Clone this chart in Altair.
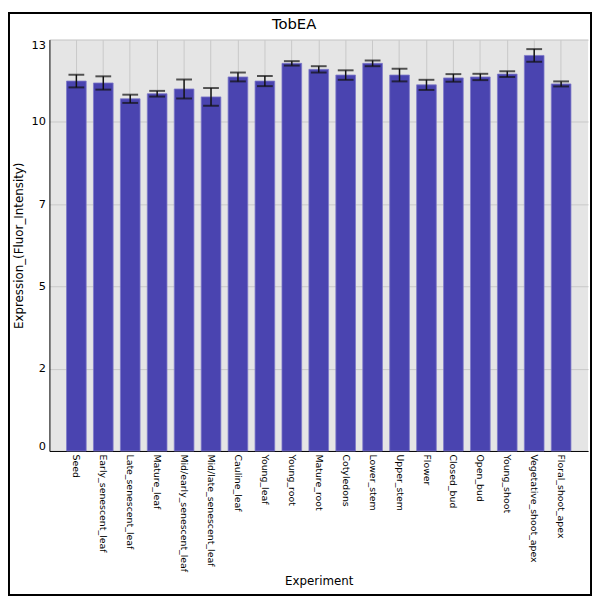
import altair as alt
import pandas as pd

experiments = [
    "Seed", "Early_senescent_leaf", "Late_senescent_leaf", "Mature_leaf",
    "Mid/early_senescent_leaf", "Mid/late_senescent_leaf", "Cauline_leaf",
    "Young_leaf", "Young_root", "Mature_root", "Cotyledons", "Lower_stem",
    "Upper_stem", "Flower", "Closed_bud", "Open_bud", "Young_shoot",
    "Vegetative_shoot_apex", "Floral_shoot_apex",
]
expression = [11.69, 11.63, 11.13, 11.29, 11.44, 11.19, 11.82, 11.69, 12.25, 12.06,
              11.88, 12.25, 11.88, 11.57, 11.79, 11.82, 11.91, 12.50, 11.60]
errors = [0.20, 0.21, 0.13, 0.09, 0.30, 0.28, 0.14, 0.16, 0.07, 0.10,
          0.15, 0.09, 0.20, 0.16, 0.12, 0.10, 0.09, 0.20, 0.08]
y_ticks = [0, 2.6, 5.2, 7.8, 10.4, 13]
chart_title = "TobEA"

df = pd.DataFrame({"Experiment": experiments, "Expression": expression, "Error": errors})
df["lo"] = df["Expression"] - df["Error"]
df["hi"] = df["Expression"] + df["Error"]

W, H = 546, 417
YT = "Expression_(Fluor_Intensity)"

x_enc = alt.X(
    "Experiment:N", sort=experiments,
    scale=alt.Scale(paddingInner=0.27, paddingOuter=0.635),
    axis=alt.Axis(title="Experiment", labelAngle=90, labelFontSize=9.5, labelPadding=3,
                  ticks=False, grid=True, gridColor="#c8c8c8", gridWidth=1,
                  domainColor="black", domainWidth=1, labelColor="black",
                  titleFontSize=12, titleFontWeight="normal", titleColor="black"),
)
y_enc = alt.Y(
    "Expression:Q",
    scale=alt.Scale(domain=[0, 13], nice=False, zero=True),
    axis=alt.Axis(title=YT, values=y_ticks, labelExpr="floor(datum.value)",
                  labelFlush=True, labelFontSize=11.5, labelPadding=4, ticks=False,
                  grid=True, gridColor="#c8c8c8", gridWidth=1,
                  domainColor="black", domainWidth=1, labelColor="black",
                  titleFontSize=12, titleFontWeight="normal", titleColor="black",
                  titlePadding=6),
)

bars = alt.Chart(df).mark_bar(color="#4A44B0", stroke="#7D79C8", strokeWidth=0.8).encode(
    x=x_enc, y=y_enc
)
xs = alt.X("Experiment:N", sort=experiments)
rule = alt.Chart(df).mark_rule(color="#111111", strokeWidth=1.5).encode(
    x=xs, y=alt.Y("lo:Q", title=YT), y2="hi:Q"
)
cap_lo = alt.Chart(df).mark_tick(color="#111111", thickness=2, size=16).encode(
    x=xs, y=alt.Y("lo:Q", title=YT)
)
cap_hi = alt.Chart(df).mark_tick(color="#111111", thickness=2, size=16).encode(
    x=xs, y=alt.Y("hi:Q", title=YT)
)
frame = alt.Chart(pd.DataFrame({"f": [0]})).mark_rect(
    filled=False, stroke="black", strokeWidth=2
).encode(
    x=alt.value(-41), x2=alt.value(W + 3), y=alt.value(-27), y2=alt.value(H + 146)
)
title = alt.Chart(pd.DataFrame({"t": [chart_title]})).mark_text(
    fontSize=15, color="black", align="center", baseline="middle"
).encode(
    text="t:N", x=alt.value(W / 2 - 25), y=alt.value(-16)
)

chart = alt.layer(bars, rule, cap_lo, cap_hi, frame, title).properties(
    width=W, height=H,
    autosize=alt.AutoSizeParams(type="none"),
    padding={"left": 42, "top": 28, "right": 4, "bottom": 147},
    background="white",
).configure(font="DejaVu Sans").configure_view(fill="#E5E5E5", strokeWidth=0)

chart.save("out.html", embed_options={"renderer": "svg", "actions": False})
